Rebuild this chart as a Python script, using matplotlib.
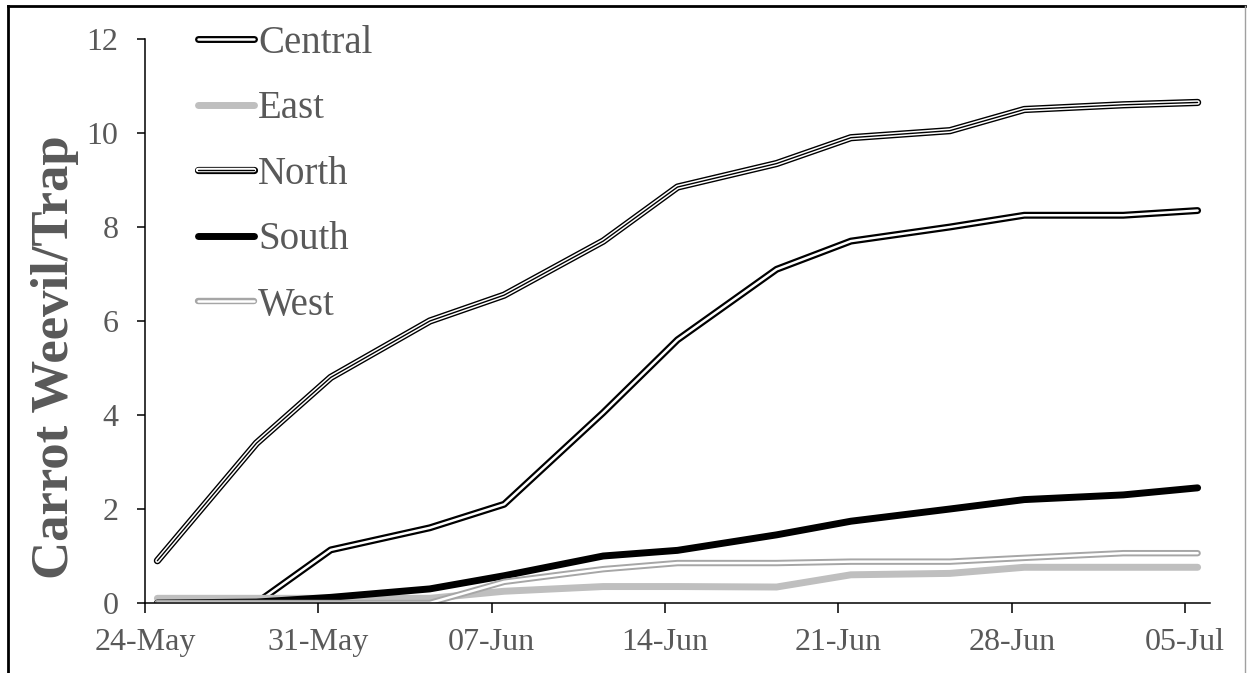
import numpy as np
import pandas as pd
import matplotlib
matplotlib.use("Agg")
import matplotlib.pyplot as plt
import matplotlib.dates as mdates
from matplotlib.lines import Line2D
from matplotlib.legend_handler import HandlerTuple

# survey dates and cumulative carrot weevil counts per trap
dates = ['24-May', '28-May', '31-May', '04-Jun', '07-Jun', '11-Jun', '14-Jun',
         '18-Jun', '21-Jun', '25-Jun', '28-Jun', '02-Jul', '05-Jul']
central = [0.0, 0.0, 1.13, 1.6, 2.1, 4.05, 5.6, 7.1, 7.7, 8.0, 8.25, 8.25, 8.35]
east = [0.1, 0.1, 0.1, 0.1, 0.25, 0.35, 0.35, 0.34, 0.6, 0.63, 0.76, 0.76, 0.76]
north = [0.9, 3.4, 4.8, 6.0, 6.55, 7.7, 8.85, 9.35, 9.9, 10.05, 10.5, 10.6, 10.65]
south = [0.0, 0.02, 0.12, 0.3, 0.58, 1.0, 1.12, 1.45, 1.74, 2.0, 2.2, 2.3, 2.45]
west = [0.0, 0.0, 0.0, 0.0, 0.45, 0.72, 0.85, 0.85, 0.88, 0.88, 0.96, 1.06, 1.06]
x_ticks = ['24-May', '31-May', '07-Jun', '14-Jun', '21-Jun', '28-Jun', '05-Jul']
y_ticks = [0, 2, 4, 6, 8, 10, 12]

def to_date(s):
    return pd.to_datetime(s + '-2019', format='%d-%b-%Y')

# Excel date axis puts points in the middle of the day
x = [to_date(d) + pd.Timedelta(hours=12) for d in dates]

plt.rcParams['font.family'] = ['Liberation Serif', 'DejaVu Serif']
txt = '#595959'

fig = plt.figure(figsize=(12.47, 6.73), dpi=100)
ax = fig.add_axes([145 / 1247, 1 - 603 / 673, (1210 - 145) / 1247, (603 - 39) / 673])

kw = dict(solid_capstyle='round', solid_joinstyle='round')
# each style is a stack of (color, width) drawn on top of each other
styles = {
    'Central': [('black', 5.0), ('white', 1.8)],
    'East': [('#bfbfbf', 5.0)],
    'North': [('black', 5.2), ('white', 3.2), ('black', 1.0)],
    'South': [('black', 5.0)],
    'West': [('#a6a6a6', 4.6), ('white', 1.8)],
}
series = {'Central': central, 'East': east, 'North': north, 'South': south, 'West': west}

handles = []
for name, vals in series.items():
    parts = []
    for col, lw in styles[name]:
        ln, = ax.plot(x, vals, color=col, lw=lw, **kw)
        parts.append(ln)
    handles.append(tuple(parts))

ax.set_ylim(0, 12)
ax.set_yticks(y_ticks)
ax.set_xlim(to_date('24-May'), to_date('06-Jul'))
ax.set_xticks([to_date(t) for t in x_ticks])
ax.xaxis.set_major_formatter(mdates.DateFormatter('%d-%b'))

for s in ['top', 'right']:
    ax.spines[s].set_visible(False)
for s in ['left', 'bottom']:
    ax.spines[s].set_linewidth(1.1)
ax.tick_params(axis='y', direction='out', length=6, width=1.1, pad=13,
               labelsize=23, labelcolor=txt)
ax.tick_params(axis='x', direction='out', length=7, width=1.1, pad=11,
               labelsize=23, labelcolor=txt)

fig.text(55 / 1247, 1 - 357 / 673, 'Carrot Weevil/Trap', rotation=90,
         ha='center', va='center', fontsize=38, fontweight='bold', color=txt)

leg = ax.legend(handles, list(series.keys()), handler_map={tuple: HandlerTuple(ndivide=1)},
                loc='upper left', bbox_to_anchor=(198 / 1247, 1 - 25 / 673),
                bbox_transform=fig.transFigure, frameon=False, fontsize=28,
                handlelength=1.45, handletextpad=0.1, labelspacing=0.73,
                borderpad=0, borderaxespad=0)
for t in leg.get_texts():
    t.set_color(txt)

# outer frame of the figure, cropped at the bottom
fig.add_artist(Line2D([8 / 1247, 1245 / 1247], [1 - 6 / 673, 1 - 6 / 673],
                      transform=fig.transFigure, color='black', lw=2))
fig.add_artist(Line2D([8 / 1247, 8 / 1247], [0, 1 - 6 / 673],
                      transform=fig.transFigure, color='black', lw=2))
fig.add_artist(Line2D([1245 / 1247, 1245 / 1247], [0, 1 - 6 / 673],
                      transform=fig.transFigure, color='#a0a0a0', lw=1))

fig.savefig('out.png', dpi=100)
